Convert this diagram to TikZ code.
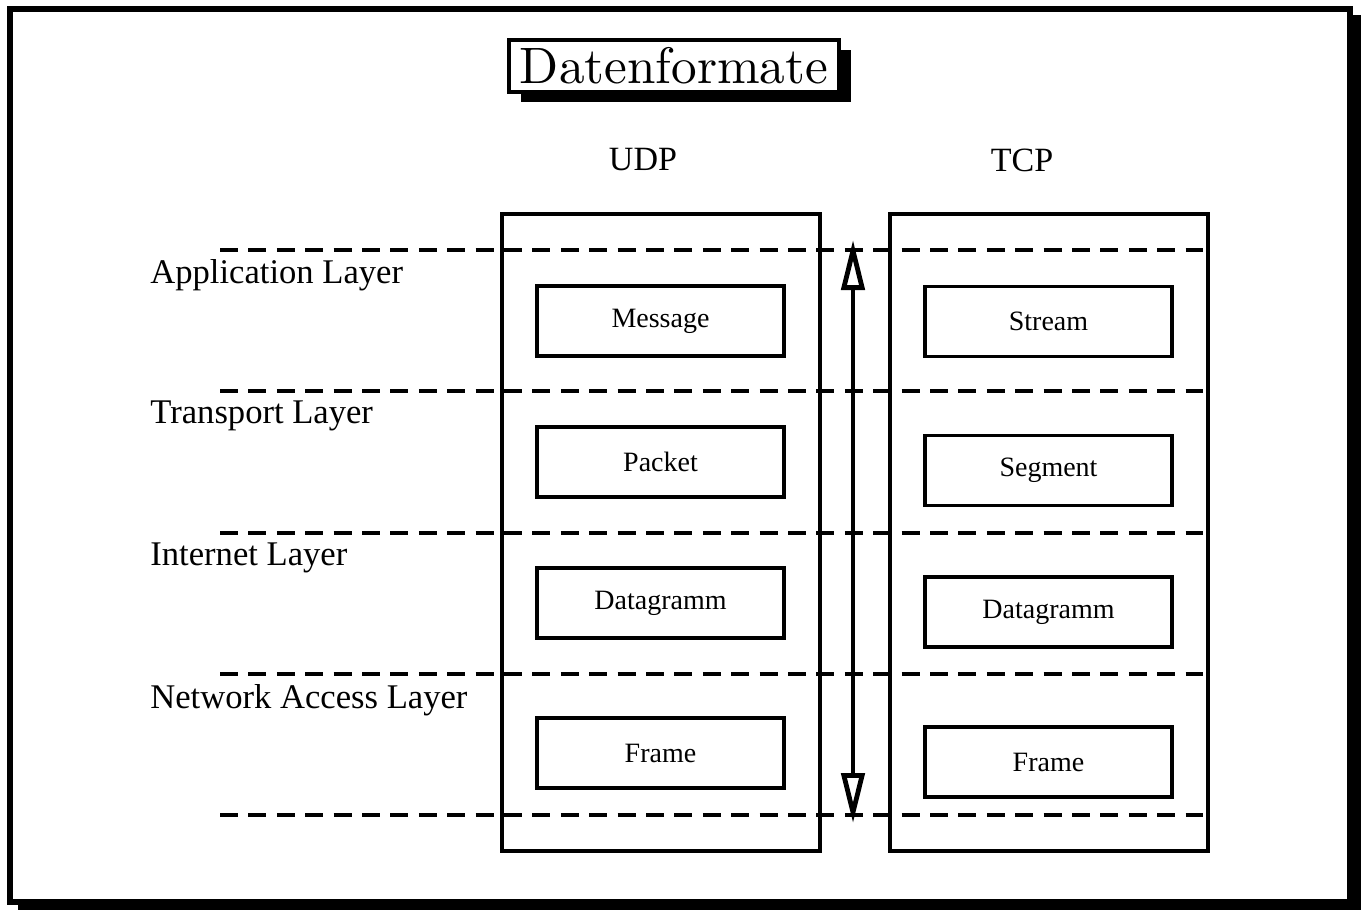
\documentclass[tikz,border=0pt]{standalone}
\usepackage{fontspec}
\newfontfamily\timesfont{Liberation Serif}
\newfontfamily\titlefont{lmroman10-regular.otf}
\usetikzlibrary{arrows.meta,positioning,shadows}

\tikzset{
  colbox/.style={draw, line width=1.7pt, minimum width=159pt, minimum height=318.5pt, inner sep=0pt},
  unitbox/.style={draw, line width=1.9pt, minimum width=123.5pt, minimum height=35pt, inner sep=0pt,
    font=\timesfont\fontsize{14}{16}\selectfont},
  layerline/.style={line width=2.4pt, dash pattern=on 9pt off 5.2pt},
  layerlbl/.style={anchor=west, inner sep=0pt, font=\timesfont\fontsize{17.3}{20}\selectfont},
  protolbl/.style={inner sep=0pt, font=\timesfont\fontsize{17}{20}\selectfont},
}

\begin{document}
\begin{tikzpicture}[x=0.5pt,y=-0.5pt]
  \useasboundingbox (0,0) rectangle (1361,910);
  \fill[black] (18,15) rectangle (1361,910);
  \draw[line width=3pt, fill=white] (10,9) rectangle (1350,902);

  \node[draw, fill=white, line width=1.6pt, minimum width=165pt, minimum height=26pt, inner sep=0pt,
    drop shadow={opacity=1, fill=black, shadow xshift=6pt, shadow yshift=-5pt},
    font=\titlefont\fontsize{25.6}{30}\selectfont] (title) at (674,66) {Datenformate};

  \node[colbox] (udpcol) at (661,532.5) {};
  \node[colbox] (tcpcol) at (1049,532.5) {};
  \node[protolbl] (udp) at (643,160) {UDP};
  \node[protolbl] (tcp) at (1022,160) {TCP};

  \foreach \i/\y in {1/250,2/391,3/533,4/674,5/815} {
    \coordinate (l\i) at (220,\y);
    \coordinate (r\i) at (1203,\y);
    \draw[layerline] (l\i) -- (r\i);
  }

  \foreach \n/\y/\lbl in {
    app/275/Application Layer,
    trans/416/Transport Layer,
    inet/558/Internet Layer,
    net/700/Network Access Layer
  } {
    \node[layerlbl] (\n) at (150,\y) {\lbl};
  }

  \node[unitbox] (msg) at (660.5,321) {Message};
  \node[unitbox] (pkt) at (660.5,462) {Packet};
  \node[unitbox] (dgu) at (660.5,603) {Datagramm};
  \node[unitbox] (fru) at (660.5,753) {Frame};

  \node[unitbox] (strm) at (1048.5,321.5) {Stream};
  \node[unitbox] (seg) at (1048.5,470.5) {Segment};
  \node[unitbox] (dgt) at (1048.5,612) {Datagramm};
  \node[unitbox] (frt) at (1048.5,762) {Frame};

  \coordinate (arrtop) at (853,240);
  \coordinate (arrbot) at (853,823);
  \draw[line width=2.4pt, {Triangle[open, fill=white, length=25pt, width=11.5pt]}-{Triangle[open, fill=white, length=25pt, width=11.5pt]}] (arrtop) -- (arrbot);
\end{tikzpicture}
\end{document}
